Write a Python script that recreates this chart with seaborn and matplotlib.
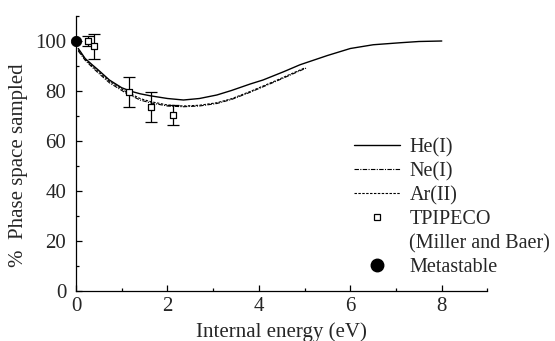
import numpy as np
import pandas as pd
import matplotlib
matplotlib.use("Agg")
import matplotlib.pyplot as plt
from matplotlib.lines import Line2D
from matplotlib.ticker import MultipleLocator
import seaborn as sns

# ---- data ----
he_x = [0.05, 0.2, 0.36, 0.5, 0.73, 1.0, 1.2, 1.4, 1.62, 2.0, 2.35, 2.7, 3.08, 3.4, 3.81, 4.09, 4.54, 4.9, 5.5, 6.0, 6.5, 7.09, 7.5, 8.0]
he_y = [97.0, 93.0, 90.4, 88.2, 84.4, 81.3, 79.9, 78.9, 78.1, 77.0, 76.4, 77.0, 78.4, 80.2, 82.8, 84.4, 87.7, 90.5, 94.2, 97.0, 98.5, 99.3, 99.8, 100.0]

ne_x = [0.05, 0.2, 0.36, 0.5, 0.73, 1.09, 1.4, 1.62, 2.0, 2.35, 2.7, 3.08, 3.4, 3.81, 4.39, 4.7, 5.05]
ne_y = [96.0, 92.3, 89.4, 87.0, 83.3, 79.2, 76.4, 75.3, 74.0, 73.7, 74.0, 75.0, 76.6, 79.5, 84.0, 86.5, 89.3]

ar_x = [0.05, 0.2, 0.36, 0.5, 0.73, 1.09, 1.4, 1.62, 2.0, 2.35, 2.7, 3.08, 3.4, 3.81, 4.39, 4.7, 5.0]
ar_y = [96.5, 92.7, 89.9, 87.6, 83.9, 79.8, 77.0, 75.8, 74.4, 74.0, 74.3, 75.3, 76.9, 79.8, 84.3, 86.8, 89.2]

tp_x = [0.27, 0.39, 1.17, 1.63, 2.12]
tp_y = [100.0, 98.0, 79.5, 73.5, 70.5]
tp_err = [2.0, 5.0, 6.0, 6.0, 4.0]

meta_x = [0.0]
meta_y = [100.0]

labels = ["He(I)", "Ne(I)", "Ar(II)", "TPIPECO", "(Miller and Baer)", "Metastable"]
x_ticks = [0, 2, 4, 6, 8]
y_ticks = [0, 20, 40, 60, 80, 100]

# ---- style ----
sns.set_style("ticks")
plt.rcParams["font.family"] = ["Liberation Serif", "DejaVu Serif"]
FS = 15
LFS = 14.5

fig = plt.figure(figsize=(5.55, 3.41), dpi=100)
ax = fig.add_axes([76 / 555, 1 - 291 / 341, (487.5 - 76) / 555, (291 - 16) / 341])

lw = 1.0
sns.lineplot(x=he_x, y=he_y, ax=ax, color="black", lw=lw, linestyle="-")
sns.lineplot(x=ne_x, y=ne_y, ax=ax, color="black", lw=0.8)
ax.lines[-1].set_dashes([4, 1.2, 1, 1.2])
sns.lineplot(x=ar_x, y=ar_y, ax=ax, color="black", lw=0.8)
ax.lines[-1].set_dashes([2.2, 1.3])

ax.errorbar(tp_x, tp_y, yerr=tp_err, fmt="none", ecolor="black", elinewidth=0.9,
            capsize=4, capthick=0.9)
sns.scatterplot(x=tp_x, y=tp_y, ax=ax, marker="s", s=22, facecolor="white",
                edgecolor="black", linewidth=0.9, zorder=5)
sns.scatterplot(x=meta_x, y=meta_y, ax=ax, marker="o", s=55, color="black",
                edgecolor="black", zorder=6, clip_on=False)

ax.set_xlim(0, 9)
ax.set_ylim(0, 110)
ax.set_xticks(x_ticks)
ax.set_yticks(y_ticks)
ax.xaxis.set_minor_locator(MultipleLocator(1))
ax.yaxis.set_minor_locator(MultipleLocator(10))
ax.tick_params(which="both", direction="in", width=0.9, labelsize=FS, color="black")
ax.tick_params(which="major", length=4.5)
ax.tick_params(which="minor", length=2.5)
ax.tick_params(axis="y", pad=7)
ax.tick_params(axis="x", pad=4)
for s in ["top", "right"]:
    ax.spines[s].set_visible(False)
for s in ["left", "bottom"]:
    ax.spines[s].set_linewidth(0.9)
    ax.spines[s].set_color("black")

ax.set_xlabel("Internal energy (eV)", fontsize=FS, labelpad=5)
ax.set_ylabel("%  Phase space sampled", fontsize=FS)
ax.yaxis.set_label_coords((28 - 76) / 411.5, (291 - 165) / 275)

handles = [
    Line2D([], [], color="black", lw=lw),
    Line2D([], [], color="black", lw=0.8, dashes=[4, 1.2, 1, 1.2]),
    Line2D([], [], color="black", lw=0.8, dashes=[2.2, 1.3]),
    Line2D([], [], color="black", lw=0, marker="s", markersize=5,
           markerfacecolor="white", markeredgewidth=0.9),
    Line2D([], [], color="none", lw=0),
    Line2D([], [], color="black", lw=0, marker="o", markersize=9),
]
leg = ax.legend(handles, labels, loc="upper left", frameon=False, fontsize=LFS,
                bbox_to_anchor=(354 / 555, 1 - 138 / 341), bbox_transform=fig.transFigure,
                handlelength=2.3, handletextpad=0.45, labelspacing=0.24, borderaxespad=0,
                borderpad=0)

fig.savefig("out.png", dpi=100)
